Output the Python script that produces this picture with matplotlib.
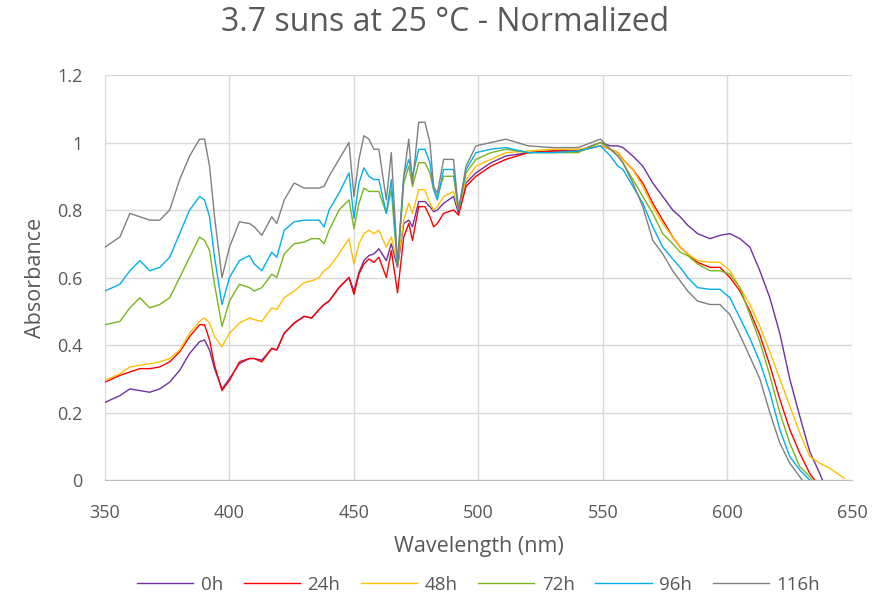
import numpy as np
import matplotlib
matplotlib.use('Agg')
import matplotlib.pyplot as plt

# wavelength grid (nm) shared by all curves
wavelength = [350, 356, 360, 364, 368, 372, 376, 380, 384, 388, 390, 392, 394, 397,
              400, 404, 408, 410, 413, 417, 419, 422, 426, 430, 433, 436, 438, 440,
              444, 448, 450, 452, 454, 456, 458, 460, 463, 465, 467.5, 470, 472, 473.5,
              476, 478.5, 480.5, 482, 483.5, 486, 490, 492, 495, 499, 505, 511, 520,
              530, 540, 549, 553, 556, 558, 562, 566, 570, 574, 578, 581, 584, 588,
              593, 597, 601, 605, 609, 613, 617, 621, 625, 629, 633, 637, 641, 647]

abs_0h = [0.23, 0.25, 0.27, 0.265, 0.26, 0.27, 0.29, 0.325, 0.375, 0.41, 0.415, 0.385, 0.33, 0.27,
          0.30, 0.345, 0.36, 0.36, 0.355, 0.39, 0.385, 0.435, 0.465, 0.485, 0.48, 0.505, 0.52, 0.53,
          0.57, 0.60, 0.56, 0.615, 0.65, 0.665, 0.67, 0.685, 0.65, 0.70, 0.63, 0.76, 0.77, 0.75,
          0.825, 0.825, 0.81, 0.795, 0.80, 0.82, 0.84, 0.79, 0.88, 0.91, 0.94, 0.96, 0.97,
          0.975, 0.975, 1.0, 0.99, 0.99, 0.985, 0.96, 0.93, 0.88, 0.84, 0.80, 0.78, 0.755, 0.73,
          0.715, 0.725, 0.73, 0.715, 0.69, 0.62, 0.54, 0.435, 0.30, 0.19, 0.085, 0.02, -0.05, -0.1]

abs_24h = [0.29, 0.31, 0.32, 0.33, 0.33, 0.335, 0.35, 0.38, 0.425, 0.46, 0.46, 0.415, 0.34, 0.265,
           0.295, 0.35, 0.36, 0.36, 0.35, 0.39, 0.385, 0.435, 0.465, 0.485, 0.48, 0.505, 0.52, 0.53,
           0.57, 0.60, 0.55, 0.61, 0.64, 0.655, 0.645, 0.66, 0.60, 0.68, 0.555, 0.72, 0.76, 0.71,
           0.81, 0.81, 0.78, 0.75, 0.76, 0.79, 0.80, 0.785, 0.87, 0.90, 0.93, 0.95, 0.97,
           0.975, 0.975, 0.99, 0.98, 0.97, 0.95, 0.92, 0.88, 0.82, 0.77, 0.72, 0.69, 0.67, 0.645,
           0.63, 0.63, 0.60, 0.56, 0.50, 0.43, 0.34, 0.24, 0.15, 0.08, 0.02, -0.02, -0.06, -0.1]

abs_48h = [0.295, 0.315, 0.335, 0.34, 0.345, 0.35, 0.36, 0.385, 0.435, 0.47, 0.48, 0.465, 0.425, 0.395,
           0.435, 0.465, 0.48, 0.475, 0.47, 0.51, 0.505, 0.54, 0.56, 0.585, 0.59, 0.60, 0.62, 0.63,
           0.67, 0.715, 0.64, 0.70, 0.73, 0.74, 0.73, 0.74, 0.69, 0.72, 0.64, 0.77, 0.82, 0.79,
           0.86, 0.86, 0.82, 0.80, 0.81, 0.84, 0.855, 0.80, 0.89, 0.93, 0.95, 0.97, 0.975,
           0.98, 0.98, 0.99, 0.98, 0.97, 0.95, 0.92, 0.87, 0.81, 0.76, 0.72, 0.69, 0.67, 0.65,
           0.645, 0.645, 0.62, 0.57, 0.52, 0.455, 0.38, 0.30, 0.22, 0.14, 0.07, 0.05, 0.035, 0.005]

abs_72h = [0.46, 0.47, 0.51, 0.54, 0.51, 0.52, 0.54, 0.60, 0.66, 0.72, 0.71, 0.68, 0.58, 0.455,
           0.53, 0.58, 0.57, 0.56, 0.57, 0.61, 0.60, 0.67, 0.70, 0.705, 0.715, 0.715, 0.70, 0.74,
           0.80, 0.83, 0.745, 0.82, 0.865, 0.855, 0.855, 0.855, 0.79, 0.86, 0.63, 0.88, 0.93, 0.87,
           0.94, 0.94, 0.91, 0.86, 0.84, 0.90, 0.90, 0.80, 0.91, 0.95, 0.97, 0.98, 0.97,
           0.97, 0.97, 1.0, 0.98, 0.96, 0.94, 0.89, 0.84, 0.79, 0.73, 0.70, 0.675, 0.665, 0.64,
           0.62, 0.62, 0.61, 0.57, 0.49, 0.41, 0.31, 0.20, 0.11, 0.04, 0.01, -0.03, -0.06, -0.1]

abs_96h = [0.56, 0.58, 0.62, 0.65, 0.62, 0.63, 0.66, 0.73, 0.80, 0.84, 0.83, 0.78, 0.66, 0.52,
           0.60, 0.65, 0.665, 0.64, 0.62, 0.675, 0.66, 0.74, 0.765, 0.77, 0.77, 0.77, 0.75, 0.80,
           0.85, 0.91, 0.775, 0.88, 0.925, 0.90, 0.89, 0.89, 0.79, 0.89, 0.64, 0.90, 0.95, 0.90,
           0.98, 0.98, 0.94, 0.86, 0.83, 0.92, 0.92, 0.80, 0.92, 0.97, 0.98, 0.985, 0.97,
           0.97, 0.975, 0.99, 0.96, 0.93, 0.92, 0.87, 0.82, 0.75, 0.69, 0.655, 0.63, 0.60, 0.57,
           0.565, 0.565, 0.54, 0.48, 0.42, 0.35, 0.26, 0.15, 0.07, 0.03, 0.0, -0.03, -0.06, -0.1]

abs_116h = [0.69, 0.72, 0.79, 0.78, 0.77, 0.77, 0.80, 0.89, 0.96, 1.01, 1.01, 0.93, 0.78, 0.60,
            0.69, 0.765, 0.76, 0.75, 0.725, 0.78, 0.76, 0.83, 0.88, 0.865, 0.865, 0.865, 0.87, 0.90,
            0.95, 1.00, 0.84, 0.95, 1.02, 1.01, 0.98, 0.98, 0.83, 0.97, 0.64, 0.90, 1.01, 0.88,
            1.06, 1.06, 1.00, 0.87, 0.85, 0.95, 0.95, 0.80, 0.93, 0.99, 1.00, 1.01, 0.99,
            0.985, 0.985, 1.01, 0.98, 0.96, 0.94, 0.88, 0.81, 0.71, 0.67, 0.62, 0.59, 0.56, 0.53,
            0.52, 0.52, 0.49, 0.43, 0.365, 0.30, 0.20, 0.11, 0.05, 0.01, -0.03, -0.06, -0.09, -0.12]

labels = ['0h', '24h', '48h', '72h', '96h', '116h']
series = [abs_0h, abs_24h, abs_48h, abs_72h, abs_96h, abs_116h]
colours = ['#7030A0', '#FF0000', '#FFC000', '#7AB51D', '#00B0F0', '#808080']

text_col = '#595959'
plt.rcParams['font.family'] = ['Open Sans', 'DejaVu Sans']

fig = plt.figure(figsize=(8.91, 6.01), dpi=100)
ax = fig.add_axes([0.1178, 0.2013, 0.8384, 0.6739])

for ys, lab, c in zip(series, labels, colours):
    ax.plot(wavelength, ys, color=c, lw=1.0, label=lab)

ax.set_xlim(350, 650)
ax.set_ylim(0, 1.2)
ax.set_xticks(np.arange(350, 651, 50))
ax.set_yticks([0, 0.2, 0.4, 0.6, 0.8, 1.0, 1.2])
ax.set_yticklabels(['0', '0.2', '0.4', '0.6', '0.8', '1', '1.2'])
ax.grid(True, color='#d9d9d9', lw=1.0)
ax.set_axisbelow(True)
for s in ['top', 'right', 'left']:
    ax.spines[s].set_visible(False)
ax.spines['bottom'].set_color('#bfbfbf')
ax.tick_params(length=0, labelsize=13, colors=text_col)
ax.tick_params(axis='x', pad=17)
ax.tick_params(axis='y', pad=16)

ax.set_xlabel('Wavelength (nm)', fontsize=15.5, color=text_col, labelpad=10)
ax.set_ylabel('Absorbance', fontsize=15.5, color=text_col, labelpad=8)
fig.suptitle('3.7 suns at 25 °C - Normalized', fontsize=23, color=text_col, y=0.99)

ax.legend(loc='upper center', bbox_to_anchor=(0.5, -0.195), ncol=6, frameon=False,
          fontsize=13.5, labelcolor=text_col, handlelength=3.0, columnspacing=1.1,
          handletextpad=0.4)

fig.savefig('out.png', dpi=100)
